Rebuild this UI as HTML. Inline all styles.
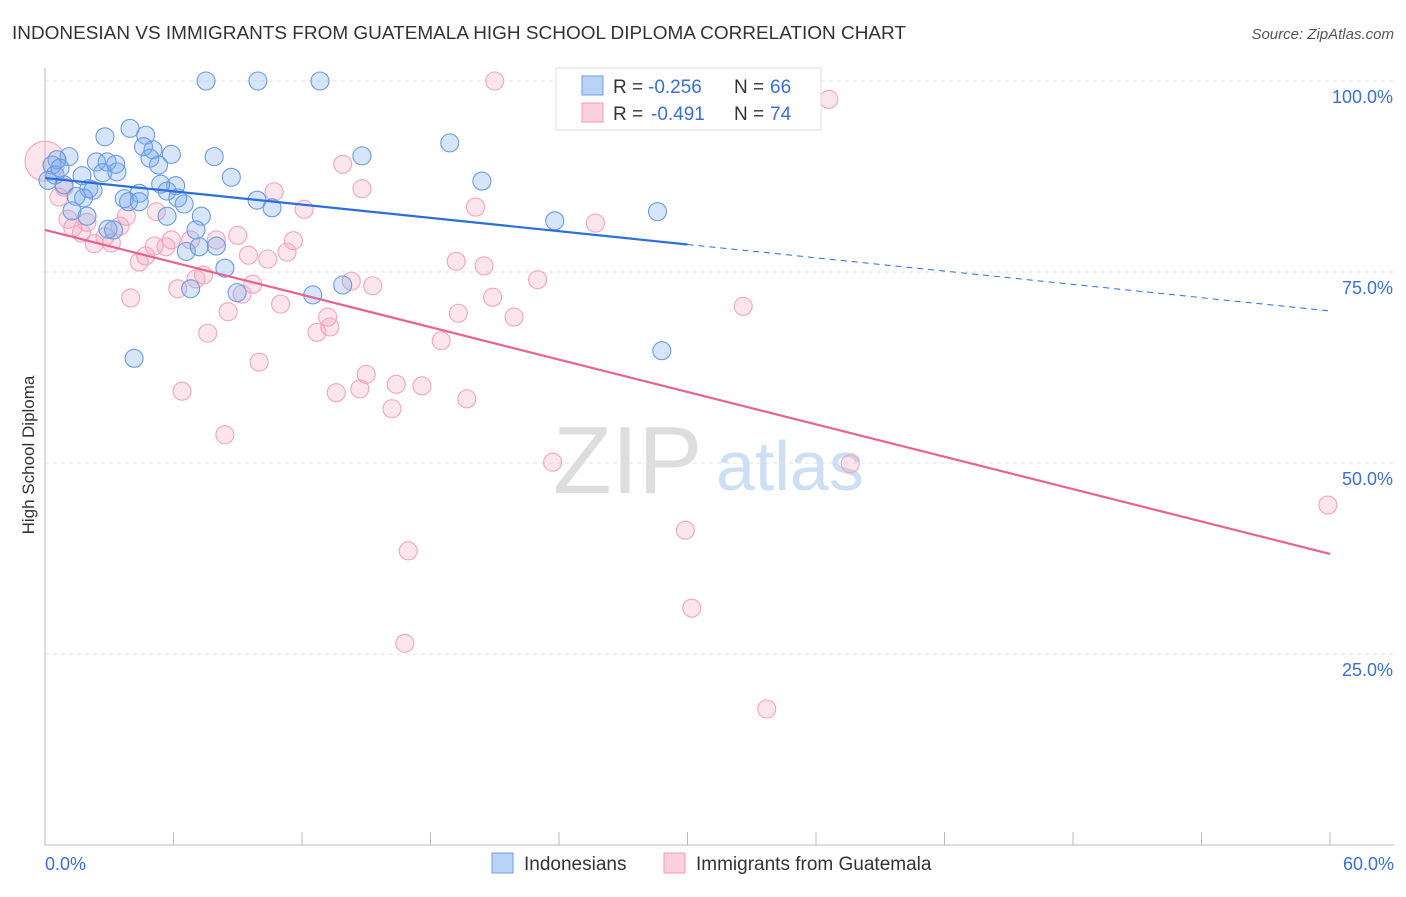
<!DOCTYPE html>
<html><head><meta charset="utf-8"><style>
body{margin:0;background:#fff;font-family:"Liberation Sans",sans-serif}
svg text{font-family:"Liberation Sans",sans-serif}
</style></head><body>
<svg id="c" width="1406" height="892">
<text x="12" y="39" font-size="18" textLength="894" lengthAdjust="spacingAndGlyphs" fill="#333">INDONESIAN VS IMMIGRANTS FROM GUATEMALA HIGH SCHOOL DIPLOMA CORRELATION CHART</text>
<text x="1394" y="39" font-size="15" fill="#555" text-anchor="end" font-style="italic">Source: ZipAtlas.com</text>
<text x="553" y="493" font-size="96" fill="#ddd" font-family="Liberation Serif">ZIP</text>
<text x="716" y="490" font-size="70" fill="#cddff3">atlas</text>
<text transform="translate(34,455) rotate(-90)" font-size="17" fill="#333" text-anchor="middle">High School Diploma</text>
<g id="grid"></g><g id="pts"></g><g id="lines"></g>
<g>
<rect x="556" y="68" width="265" height="62" fill="#fff" stroke="#ddd"/>
<rect x="582" y="76" width="21" height="19" fill="#b9d3f5" stroke="#6e9fe6"/>
<rect x="582" y="103" width="21" height="19" fill="#fbd0dc" stroke="#f09bb4"/>
<text x="613" y="93" font-size="19" fill="#333">R =</text>
<text x="648" y="93" font-size="19" fill="#3b6fd6">-0.256</text>
<text x="734" y="93" font-size="19" fill="#333">N =</text>
<text x="770" y="93" font-size="19" fill="#3b6fd6">66</text>
<text x="613" y="120" font-size="19" fill="#333">R =</text>
<text x="651" y="120" font-size="19" fill="#3b6fd6">-0.491</text>
<text x="734" y="120" font-size="19" fill="#333">N =</text>
<text x="770" y="120" font-size="19" fill="#3b6fd6">74</text>
</g>
<g>
<rect x="492" y="853" width="21" height="20" fill="#b9d3f5" stroke="#6e9fe6"/>
<text x="524" y="870" font-size="19" fill="#333">Indonesians</text>
<rect x="664" y="853" width="21" height="20" fill="#fbd0dc" stroke="#f09bb4"/>
<text x="696" y="870" font-size="19" fill="#333">Immigrants from Guatemala</text>
</g>
</svg>
<script>
const yTicks=[100,75,50,25];
const yTickLabels=["100.0%","75.0%","50.0%","25.0%"];
const xTicks=[0,6,12,18,24,30,36,42,48,54,60];
const xEndLabels=["0.0%","60.0%"];
const blueX=[7.52,9.94,12.84,18.9,20.4,23.8,28.6,28.8,4.16,2.8,3.97,4.7,4.6,5.04,4.9,5.3,5.9,7.9,14.8,8.7,6.1,5.4,5.7,6.2,6.5,5.7,7.3,9.9,10.6,4.4,3.7,3.9,4.4,2.9,2.4,1.12,0.56,0.33,0.47,1.73,2.7,3.36,3.3,2.05,2.24,1.8,1.45,0.89,1.26,1.96,2.94,3.2,7.05,6.6,7.2,8.0,8.4,6.8,8.97,12.5,13.9,0.7,0.14];
const blueY=[100,100,100,91.9,86.9,81.7,82.9,64.7,63.7,92.7,93.8,92.9,91.4,91,89.9,89,90.4,90.1,90.2,87.4,86.3,86.5,85.6,84.7,83.9,82.3,82.3,84.4,83.4,85.3,84.6,84.2,84.2,89.4,89.4,90.1,89.7,89,87.7,87.6,88,88.1,89.1,85.9,85.7,84.7,84.9,86.4,83,82.3,80.6,80.5,80.5,77.7,78.3,78.4,75.5,72.8,72.3,72,73.3,88.6,87];
const pinkX=[0.0,21,36.6,25.7,32.6,59.9,37.6,23.7,29.9,30.2,16.96,16.8,33.7,13.9,14.8,20.1,10.7,12.1,19.2,20.5,23,20.9,19.3,21.9,18.5,14.3,15.3,13.2,13.3,12.7,11.0,11.6,11.3,10.4,9.5,9.0,9.7,9.2,8.55,7.6,7.4,7.05,6.2,8.0,6.8,5.9,5.65,5.1,4.7,4.4,5.2,3.8,3.5,2.8,3.1,2.3,1.7,1.3,1.96,1.07,0.65,0.89,4.0,6.4,8.4,10.0,13.6,14.7,15.0,16.4,17.6,16.2,19.7];
const pinkY=[89.5,100,97.6,81.4,70.5,44.5,49.9,50.1,41.2,31,38.5,26.4,17.8,89.1,85.9,83.5,85.5,83.2,76.4,75.8,74,71.7,69.6,69.1,66,73.8,73.2,69.1,67.8,67.1,70.8,79.1,77.6,76.7,77.2,79.8,73.4,72.1,69.8,67,74.6,74.1,72.8,79.2,79.2,79.2,78.3,78.4,77.1,76.3,82.9,82.3,81,79.6,78.8,78.7,80.1,80.8,81.5,81.9,84.8,86.1,71.6,59.4,53.7,63.2,59.2,59.7,61.6,60.3,60.1,57.1,58.4];
const blueTrend=[87.3,69.9], blueSolidEnd=30;
const pinkTrend=[80.5,38.1];
const NS="http://www.w3.org/2000/svg";
const X=v=>45+v/60*1285, Y=v=>845-v/100*764;
function mk(t,a,p){const e=document.createElementNS(NS,t);for(const k in a)e.setAttribute(k,a[k]);p.appendChild(e);return e;}
const grid=document.getElementById('grid'),pts=document.getElementById('pts'),lines=document.getElementById('lines');
yTicks.forEach((t,i)=>{
 const l=mk('line',{x1:45,x2:1394,y1:Y(t),y2:Y(t),stroke:'#e2e2e2','stroke-dasharray':'4,4'},grid);
 
 
 const tx=mk('text',{x:1393,y:Y(t)+22,'font-size':18,fill:'#3b6fd6','text-anchor':'end'},grid);tx.textContent=yTickLabels[i];
 
 
});
const ax=mk('line',{x1:45,x2:1394,y1:845,y2:845,stroke:'#bbb'},grid);


const ay=mk('line',{x1:45,x2:45,y1:68,y2:845,stroke:'#bbb'},grid);


xTicks.forEach(t=>{const l=mk('line',{x1:X(t),x2:X(t),y1:832,y2:845,stroke:'#bbb'},grid);
 
 });
[[0,'start',45],[60,'end',1394]].forEach((d,i)=>{const tx=mk('text',{x:d[2],y:870,'font-size':18,fill:'#3b6fd6','text-anchor':d[1]},grid);tx.textContent=xEndLabels[i];
 
 });
pinkX.forEach((x,i)=>{const c=mk('circle',{cx:X(x),cy:Y(pinkY[i]),r:i==0?20:9,fill:'rgba(245,150,180,0.25)',stroke:'#f2a5bd','stroke-width':1.1},pts);
 
 });
blueX.forEach((x,i)=>{const c=mk('circle',{cx:X(x),cy:Y(blueY[i]),r:9,fill:'rgba(120,170,235,0.3)',stroke:'#6b9be3','stroke-width':1.1},pts);
 
 });
const by=x=>blueTrend[0]+(blueTrend[1]-blueTrend[0])*x/60;
let l=mk('line',{x1:X(0),y1:Y(by(0)),x2:X(blueSolidEnd),y2:Y(by(blueSolidEnd)),stroke:'#2a6fdc','stroke-width':2.2},lines);


l=mk('line',{x1:X(blueSolidEnd),y1:Y(by(blueSolidEnd)),x2:X(60),y2:Y(by(60)),stroke:'#2a6fdc','stroke-width':1,'stroke-dasharray':'6,5'},lines);


l=mk('line',{x1:X(0),y1:Y(pinkTrend[0]),x2:X(60),y2:Y(pinkTrend[1]),stroke:'#e8638e','stroke-width':2.2},lines);


</script>
</body></html>
